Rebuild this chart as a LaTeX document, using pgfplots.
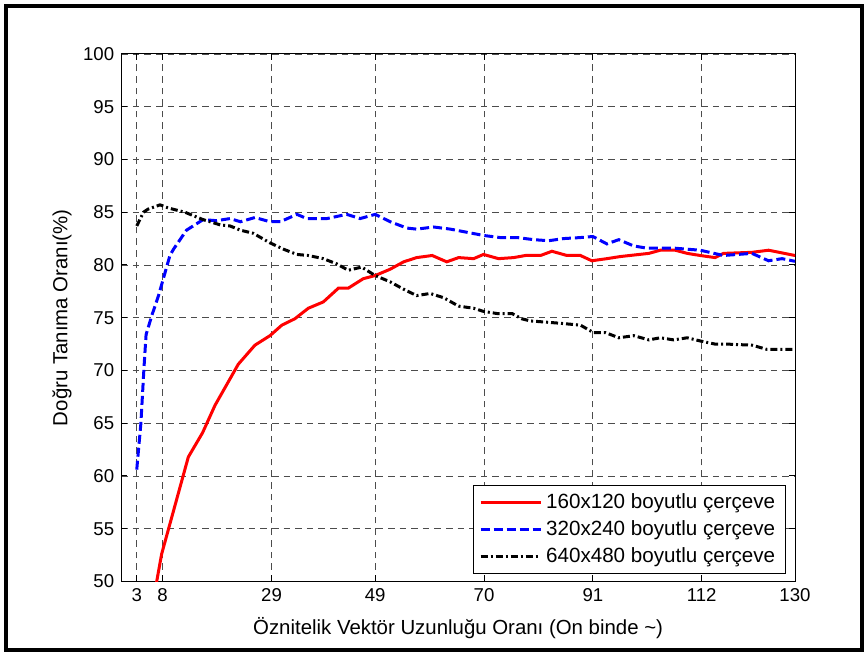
\documentclass[border=0pt]{standalone}
\usepackage{fontspec}
\setmainfont{Liberation Sans}
\usepackage{pgfplots}
\pgfplotsset{compat=1.18}
\usetikzlibrary{calc}

% one pixel of the reference = 0.5pt
\begin{document}
\begin{tikzpicture}[font=\fontsize{9.3}{11}\selectfont]
\begin{axis}[
    name=ax,
    scale only axis,
    width=336.9pt, height=263.75pt,
    xmin=0, xmax=130,
    ymin=50, ymax=100,
    xtick={3,8,29,49,70,91,112,130},
    ytick={50,55,...,100},
    /pgf/number format/assume math mode=true,
    tick align=inside,
    tick pos=both,
    major tick length=3pt,
    axis line style={line width=0.5pt},
    every tick/.style={black, line width=0.5pt},
    grid=major,
    major grid style={dash pattern=on 3.3pt off 2.5pt, black!70, line width=0.4pt},
    xlabel={Öznitelik Vektör Uzunluğu Oranı (On binde \textasciitilde)},
    ylabel={Doğru Tanıma Oranı(\%)},
    xlabel style={at={(axis description cs:0.5,-0.0881)}, anchor=center,
        font=\fontsize{10.2}{12}\selectfont},
    ylabel style={at={(axis description cs:-0.0879,0.5)}, anchor=center, rotate=0,
        font=\fontsize{10.2}{12}\selectfont},
    legend cell align=left,
    legend style={at={(0.9862,0.0137)}, anchor=south east, draw=black,
        line width=0.5pt, inner xsep=3pt, inner ysep=2pt,
        row sep=0.5pt, font=\fontsize{10.3}{12}\selectfont},
    legend image code/.code={\draw[#1] (0pt,0pt) -- (30pt,0pt);},
]
\addplot[red, line width=1.5pt] coordinates {
(5.2,45.5) (7.8,52.6) (12.95,61.8) (15.7,64.1) (18.1,66.7) (22.6,70.6)
(25.8,72.4) (28.7,73.3) (31,74.3) (33.5,74.9) (36.1,75.9) (39,76.5)
(41.9,77.8) (43.8,77.8) (46.7,78.7) (49,79.0) (51.9,79.6) (54.5,80.3)
(57,80.7) (60,80.9) (62.8,80.3) (65.1,80.7) (68,80.6) (69.9,81.0)
(72.8,80.6) (75.7,80.7) (78,80.9) (80.9,80.9) (83.1,81.3) (86,80.9)
(88.6,80.9) (90.8,80.4) (93.7,80.6) (96.3,80.8) (101.8,81.1) (104,81.4)
(106.9,81.4) (109.2,81.1) (111.7,80.9) (114.6,80.7) (116.2,81.1)
(121.7,81.2) (124.9,81.4) (130,80.9)
};
\addlegendentry{160x120 boyutlu çerçeve}
\addplot[blue, line width=1.5pt, dash pattern=on 4.5pt off 2pt] coordinates {
(3,60.6) (3.8,65.0) (4.4,70.3) (4.8,73.4) (5.9,75.2) (7.2,77.1)
(9.4,80.9) (10.1,81.5) (12.6,83.3) (15.8,84.3) (18.4,84.2) (21,84.4)
(23,84.1) (25.8,84.5) (28.7,84.1) (30.7,84.1) (33.9,84.8) (35.8,84.4)
(39.7,84.4) (43.5,84.8) (46.1,84.4) (49,84.8) (51.9,84.1) (55.1,83.5)
(57,83.4) (60.3,83.6) (63.5,83.4) (66.7,83.1) (69.9,82.8) (73.1,82.6)
(76.4,82.6) (79.6,82.4) (82.5,82.3) (85.3,82.5) (88.6,82.6) (91,82.7)
(93.7,82.0) (96,82.4) (98.9,81.8) (101.4,81.6) (106.6,81.6) (111.7,81.4)
(116.2,80.9) (121.7,81.1) (124.9,80.4) (127.5,80.6) (130,80.35)
};
\addlegendentry{320x240 boyutlu çerçeve}
\addplot[black, line width=1.5pt, dash pattern=on 3.5pt off 1.5pt on 1pt off 1.5pt] coordinates {
(3,83.7) (4.3,85.0) (5.2,85.3) (7.5,85.7) (9.1,85.4) (12.3,85.0)
(15.8,84.3) (19.1,83.8) (21,83.7) (23,83.3) (25.5,83.0) (28.7,82.1)
(31.3,81.5) (33.9,81.0) (36.1,80.9) (39,80.6) (41.6,80.1) (43.8,79.5)
(46.4,79.8) (49,79.0) (51.9,78.4) (54.5,77.7) (57,77.1) (59.6,77.3)
(62.2,76.9) (65.1,76.1) (68,75.9) (69.9,75.6) (72.5,75.4) (75.4,75.4)
(77.3,74.9) (78.9,74.7) (84.1,74.5) (88.6,74.3) (91.1,73.6) (93.4,73.6)
(96,73.1) (98.9,73.3) (101.8,72.9) (104,73.1) (106.6,72.9) (109.2,73.1)
(111.7,72.8) (114.6,72.5) (116.9,72.5) (121.7,72.4) (124.6,72.0) (130,72.0)
};
\addlegendentry{640x480 boyutlu çerçeve}
\end{axis}
\draw[line width=2pt] ($(ax.south west)+(-57.6pt,-34.25pt)$) rectangle ($(ax.north east)+(33.5pt,24pt)$);
\path[use as bounding box] ($(ax.south west)+(-60.6pt,-37.25pt)$) rectangle ($(ax.north east)+(36.5pt,27pt)$);
\end{tikzpicture}
\end{document}
